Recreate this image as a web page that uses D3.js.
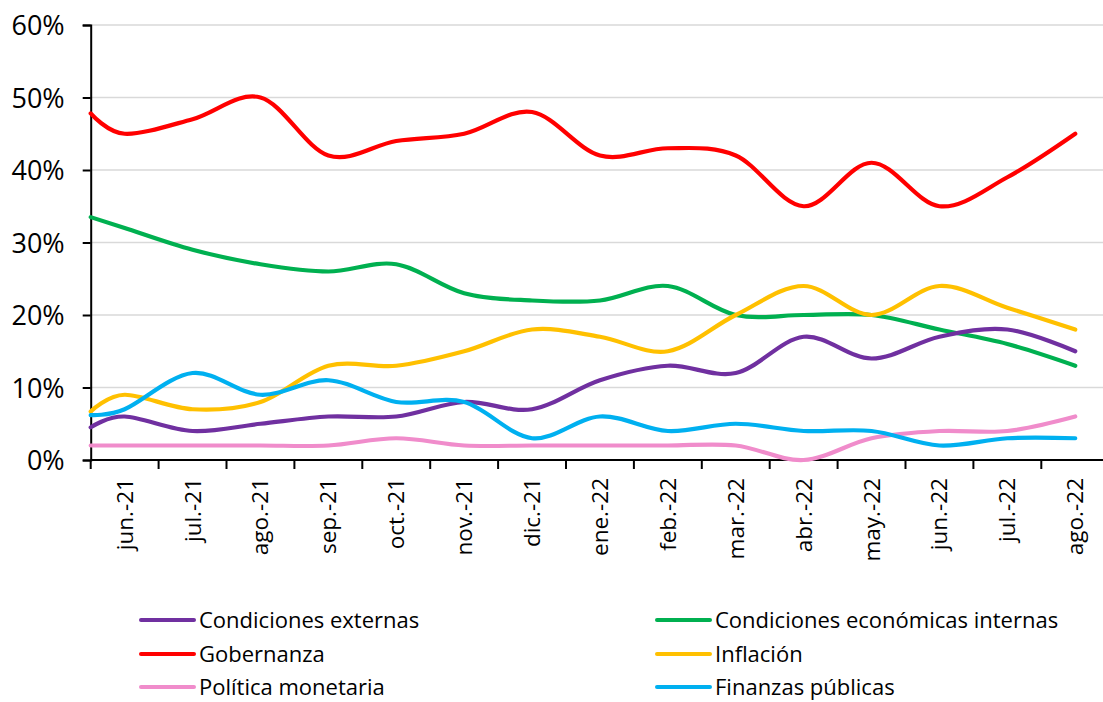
<!DOCTYPE html>
<html>
<head>
<meta charset="utf-8">
<script src="https://cdn.jsdelivr.net/npm/d3@7"></script>
<style>
  body { margin: 0; background: #fff; }
  svg { display: block; font-family: "Open Sans", "Noto Sans", sans-serif; }
</style>
</head>
<body>
<svg id="chart" width="1103" height="702"></svg>
<script>
// month labels on the category axis
var months = ['jun.-21', 'jul.-21', 'ago.-21', 'sep.-21', 'oct.-21', 'nov.-21', 'dic.-21',
  'ene.-22', 'feb.-22', 'mar.-22', 'abr.-22', 'may.-22', 'jun.-22', 'jul.-22', 'ago.-22'];

// first value is where each line meets the left axis, then one value per month (%)
var condExternas   = [4.5, 6, 4, 5, 6, 6, 8, 7, 11, 13, 12, 17, 14, 17, 18, 15];
var condInternas   = [33.5, 32, 29, 27, 26, 27, 23, 22, 22, 24, 20, 20, 20, 18, 16, 13];
var gobernanza     = [47.8, 45, 47, 50, 42, 44, 45, 48, 42, 43, 42, 35, 41, 35, 39, 45];
var inflacion      = [6.7, 9, 7, 8, 13, 13, 15, 18, 17, 15, 20, 24, 20, 24, 21, 18];
var politicaMon    = [2, 2, 2, 2, 2, 3, 2, 2, 2, 2, 2, 0, 3, 4, 4, 6];
var finanzas       = [6.2, 7, 12, 9, 11, 8, 8, 3, 6, 4, 5, 4, 4, 2, 3, 3];

var yTicks = [0, 10, 20, 30, 40, 50, 60];

var series = [
  {name: 'Condiciones externas', values: condExternas, color: '#7030A0'},
  {name: 'Condiciones económicas internas', values: condInternas, color: '#00B050'},
  {name: 'Gobernanza', values: gobernanza, color: '#FF0000'},
  {name: 'Inflación', values: inflacion, color: '#FFC000'},
  {name: 'Política monetaria', values: politicaMon, color: '#F08CCB'},
  {name: 'Finanzas públicas', values: finanzas, color: '#00B0F0'}
];
// draw order (later on top)
var drawOrder = [4, 1, 2, 3, 0, 5];

var svg = d3.select('#chart');
var plotLeft = 90.7, plotTop = 25, plotBottom = 460;
var step = 67.9;
var plotRight = plotLeft + step * months.length;

var x = d3.scaleBand()
  .domain(months)
  .range([plotLeft, plotRight]);

var y = d3.scaleLinear()
  .domain([0, 60])
  .range([plotBottom, plotTop]);

// gridlines
svg.append('g')
  .selectAll('line')
  .data(yTicks.slice(1))
  .enter()
  .append('line')
  .attr('x1', plotLeft).attr('x2', plotRight)
  .attr('y1', function(d) { return y(d); })
  .attr('y2', function(d) { return y(d); })
  .attr('stroke', '#d9d9d9')
  .attr('stroke-width', 1.5);

// y axis
var yAxis = svg.append('g')
  .attr('transform', 'translate(' + plotLeft + ',0)')
  .call(d3.axisLeft(y).tickValues(yTicks).tickSize(8).tickPadding(18)
    .tickFormat(function(d) { return d + '%'; }));
yAxis.select('.domain').attr('stroke', '#000').attr('stroke-width', 2);
yAxis.selectAll('.tick line').attr('stroke', '#000').attr('stroke-width', 2);
yAxis.selectAll('.tick text')
  .attr('font-size', 27)
  .attr('font-family', '"Open Sans", sans-serif')
  .attr('fill', '#000')
  .attr('dy', '0.36em');

// x axis: ticks at category boundaries
var xAxis = svg.append('g')
  .attr('transform', 'translate(0,' + plotBottom + ')');
xAxis.append('line')
  .attr('x1', plotLeft).attr('x2', plotRight)
  .attr('stroke', '#000').attr('stroke-width', 2);
xAxis.selectAll('line.tk')
  .data(months)
  .enter()
  .append('line')
  .attr('class', 'tk')
  .attr('x1', function(d) { return x(d); })
  .attr('x2', function(d) { return x(d); })
  .attr('y1', 0).attr('y2', 9)
  .attr('stroke', '#000').attr('stroke-width', 2);
xAxis.selectAll('text')
  .data(months)
  .enter()
  .append('text')
  .attr('transform', function(d) {
    return 'translate(' + (x(d) + x.bandwidth() / 2 + 8) + ',18) rotate(-90)';
  })
  .attr('text-anchor', 'end')
  .attr('font-size', 22.5)
  .attr('fill', '#000')
  .text(function(d) { return d; });

// lines
function px(i) {
  return i == 0 ? x.range()[0] : x(months[i - 1]) + x.bandwidth() / 2;
}
var line = d3.line()
  .x(function(d, i) { return px(i); })
  .y(function(d) { return y(d); })
  .curve(d3.curveCatmullRom.alpha(0));

svg.append('g')
  .selectAll('path')
  .data(drawOrder.map(function(k) { return series[k]; }))
  .enter()
  .append('path')
  .attr('d', function(s) { return line(s.values); })
  .attr('fill', 'none')
  .attr('stroke', function(s) { return s.color; })
  .attr('stroke-width', 4.2)
  .attr('stroke-linecap', 'round')
  .attr('stroke-linejoin', 'round');

// legend, two columns
var legendCols = [141, 657];
var legendRows = [620, 654, 687];
var legend = svg.append('g')
  .selectAll('g')
  .data(series)
  .enter()
  .append('g')
  .attr('transform', function(s, i) {
    return 'translate(' + legendCols[i % 2] + ',' + legendRows[Math.floor(i / 2)] + ')';
  });
legend.append('line')
  .attr('x1', 0).attr('x2', 53)
  .attr('stroke', function(s) { return s.color; })
  .attr('stroke-width', 4)
  .attr('stroke-linecap', 'round');
legend.append('text')
  .attr('x', 58)
  .attr('dy', '0.35em')
  .attr('font-size', 22)
  .attr('fill', '#000')
  .text(function(s) { return s.name; });
</script>
</body>
</html>
